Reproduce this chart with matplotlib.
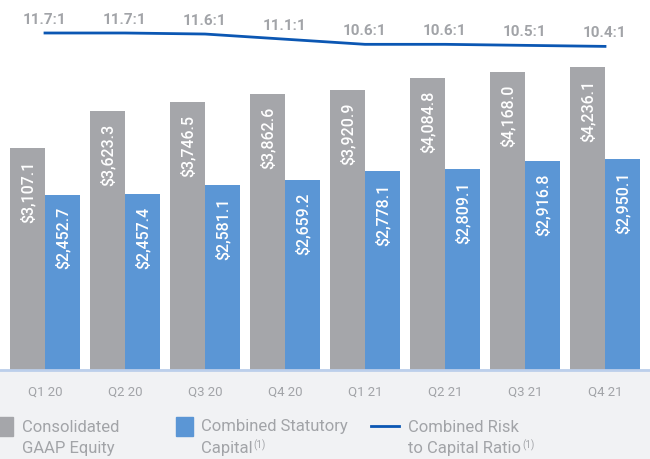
import numpy as np
import matplotlib.pyplot as plt
from matplotlib.patches import Rectangle
from matplotlib.lines import Line2D

# datos
trimestres = ['Q1 20', 'Q2 20', 'Q3 20', 'Q4 20', 'Q1 21', 'Q2 21', 'Q3 21', 'Q4 21']
gaap_equity = [3107.1, 3623.3, 3746.5, 3862.6, 3920.9, 4084.8, 4168.0, 4236.1]
statutory_capital = [2452.7, 2457.4, 2581.1, 2659.2, 2778.1, 2809.1, 2916.8, 2950.1]
risk_ratio = [11.7, 11.7, 11.6, 11.1, 10.6, 10.6, 10.5, 10.4]

gris = '#a5a6aa'
azul = '#5b96d5'
azul_linea = '#0b57b3'
texto = '#a2a4a8'

plt.rcParams['font.family'] = ['Roboto', 'DejaVu Sans']

fig = plt.figure(figsize=(6.5, 4.59), dpi=100, facecolor='white')
base = 370 / 459
ax = fig.add_axes([0, 1 - base, 1, base])
ax.set_facecolor('none')

# fondo gris bajo el eje
fig.patches.append(Rectangle((0, 0), 1, 1 - base, transform=fig.transFigure,
                             color='#f1f2f4', zorder=-5))

x = np.arange(len(trimestres))
w = 0.4375
b1 = ax.bar(x - w / 2, gaap_equity, w, color=gris, zorder=2)
b2 = ax.bar(x + w / 2, statutory_capital, w, color=azul, zorder=2)

for barras, vals in [(b1, gaap_equity), (b2, statutory_capital)]:
    for r, v in zip(barras, vals):
        ax.annotate(f'${v:,.1f}', (r.get_x() + r.get_width() / 2, v),
                    xytext=(0, -9), textcoords='offset points',
                    rotation=90, ha='center', va='top', color='white',
                    fontsize=11.5, fontweight='medium', zorder=3)

ax.set_xlim(-0.5625, 7.5625)
ax.set_ylim(0, 370 / 0.0715)
ax.set_xticks(x)
ax.set_xticklabels(trimestres, color=texto, fontsize=9.5)
ax.tick_params(axis='x', length=0, pad=11)
ax.set_yticks([])
for s in ['top', 'left', 'right']:
    ax.spines[s].set_visible(False)
ax.spines['bottom'].set_color('#bccfeb')
ax.spines['bottom'].set_linewidth(2)
ax.spines['bottom'].set_zorder(4)

# ratio en eje secundario
ax2 = ax.twinx()
ppu = 10.3
top = 11.7 + 33 / ppu
ax2.set_ylim(top - 370 / ppu, top)
ax2.plot(x, risk_ratio, color=azul_linea, lw=2)
ax2.axis('off')
for xi, r in zip(x, risk_ratio):
    ax2.annotate(f'{r}:1', (xi, r), xytext=(0, 9.5), textcoords='offset points',
                 ha='center', va='center', color=texto, fontsize=11,
                 fontweight='bold')

# leyenda manual
H, W = 459, 650
def fx(px):
    return px / W
def fy(py):
    return 1 - py / H

fig.patches.append(Rectangle((fx(-4), fy(436)), fx(17), 19 / H, transform=fig.transFigure,
                             color=gris, zorder=3))
fig.patches.append(Rectangle((fx(176), fy(436)), fx(17), 19 / H, transform=fig.transFigure,
                             color=azul, zorder=3))
fig.lines.append(Line2D([fx(371), fx(399)], [fy(426), fy(426)], transform=fig.transFigure,
                        color=azul_linea, lw=2))

lkw = dict(color=texto, fontsize=12, va='center', ha='left')
fig.text(fx(22), fy(427), 'Consolidated', **lkw)
fig.text(fx(22), fy(449), 'GAAP Equity', **lkw)
fig.text(fx(201), fy(427), 'Combined Statutory', **lkw)
cap = fig.text(fx(201), fy(449), 'Capital', **lkw)
fig.text(fx(408), fy(427), 'Combined Risk', **lkw)
rat = fig.text(fx(408), fy(449), 'to Capital Ratio', **lkw)

# superindices (1)
rend = fig.canvas.get_renderer()
for t in [cap, rat]:
    bb = t.get_window_extent(rend)
    fig.text((bb.x1 + 1) / W, (bb.y1 - 4) / H, '(1)', color=texto, fontsize=7,
             va='center', ha='left')

fig.savefig('out.png', dpi=100, facecolor=fig.get_facecolor())
